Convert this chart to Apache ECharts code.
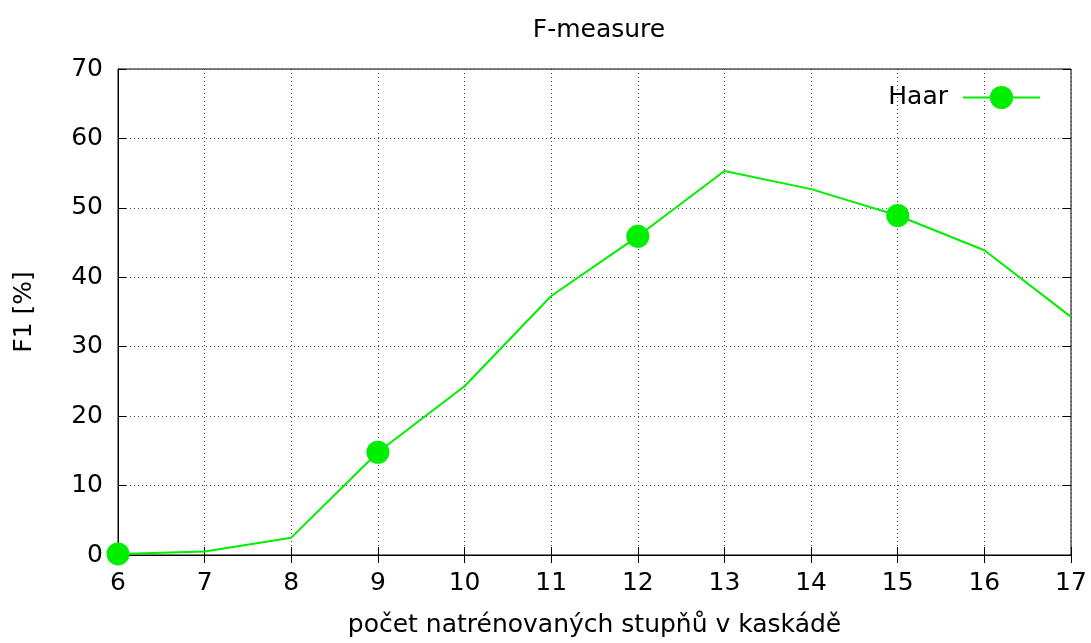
<!DOCTYPE html>
<html><head><meta charset="utf-8">
<script src="https://cdn.jsdelivr.net/npm/echarts@6/dist/echarts.min.js"></script>
<style>html,body{margin:0;padding:0;background:#fff}#c{width:1091px;height:643px}</style>
</head><body><div id="c"></div>
<script>
const categories = [6, 7, 8, 9, 10, 11, 12, 13, 14, 15, 16, 17];
const haarValues = [0.15, 0.5, 2.5, 14.8, 24.3, 37.3, 45.9, 55.3, 52.7, 48.9, 43.9, 34.3];
const seriesName = 'Haar';
const titleText = 'F-measure';
const xName = 'počet natrénovaných stupňů v kaskádě';
const yName = 'F1 [%]';

const font = 'DejaVu Sans';
const fs = 25;
const chart = echarts.init(document.getElementById('c'), null, {renderer: 'canvas'});
const data = categories.map((c, i) => [c, haarValues[i]]);
const gridLine = {show: true, lineStyle: {color: '#444', type: [1, 3], width: 1}};
const tick = {show: true, inside: true, length: 8, lineStyle: {color: '#000'}};
chart.setOption({
  animation: false,
  backgroundColor: '#fff',
  title: {text: titleText, left: 594, top: 13, textAlign: 'center',
    textStyle: {fontFamily: font, fontSize: fs, fontWeight: 'normal', color: '#000'}},
  legend: {right: 45, top: 80, itemWidth: 77, itemHeight: 29, align: 'right',
    textStyle: {fontFamily: font, fontSize: fs, color: '#000', padding: [0, 10, 0, 0]}, data: [seriesName]},
  grid: {left: 118, right: 20, top: 69, bottom: 84, show: true, borderColor: '#000', borderWidth: 1},
  xAxis: [{
    type: 'value', min: 6, max: 17, interval: 1,
    name: xName, nameLocation: 'middle', nameGap: 58,
    nameTextStyle: {fontFamily: font, fontSize: fs, color: '#000'},
    axisLine: {show: true, lineStyle: {color: '#000'}},
    axisTick: tick,
    axisLabel: {fontFamily: font, fontSize: fs, color: '#000', margin: 16},
    splitLine: gridLine
  }, {
    type: 'value', position: 'top', min: 6, max: 17, interval: 1,
    axisLine: {show: false}, axisLabel: {show: false}, splitLine: {show: false},
    axisTick: tick
  }],
  yAxis: [{
    type: 'value', min: 0, max: 70, interval: 10,
    name: yName, nameLocation: 'middle', nameGap: 81, nameRotate: 90,
    nameTextStyle: {fontFamily: font, fontSize: fs, color: '#000'},
    axisLine: {show: true, lineStyle: {color: '#000'}},
    axisTick: tick,
    axisLabel: {fontFamily: font, fontSize: fs, color: '#000', margin: 15},
    splitLine: gridLine
  }, {
    type: 'value', position: 'right', min: 0, max: 70, interval: 10,
    axisLine: {show: false}, axisLabel: {show: false}, splitLine: {show: false},
    axisTick: tick
  }],
  series: [{
    name: seriesName, type: 'line', data: data,
    xAxisIndex: 0, yAxisIndex: 0,
    color: '#00ee00',
    lineStyle: {color: '#00ee00', width: 2},
    itemStyle: {color: '#00ee00'},
    symbol: 'circle', showAllSymbol: true,
    symbolSize: (v, p) => (p.dataIndex % 3 === 0 ? 23 : 0),
    clip: false, z: 5
  }]
});
</script></body></html>
